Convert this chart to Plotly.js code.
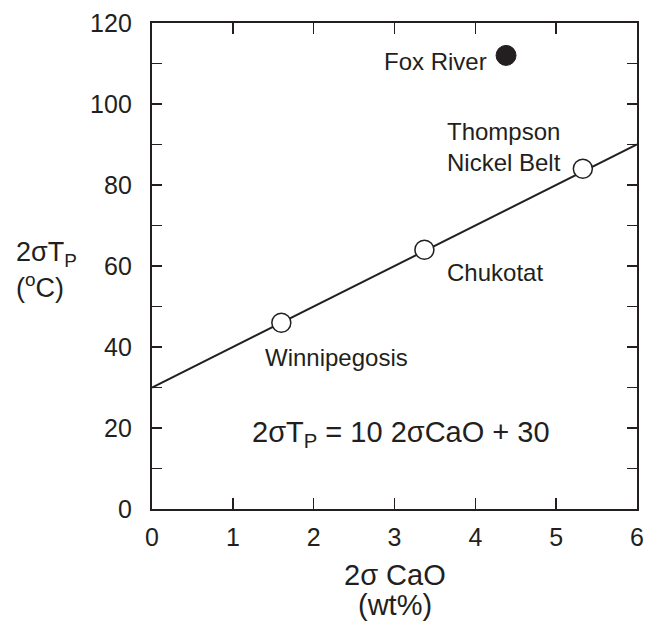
<!DOCTYPE html>
<html>
<head>
<meta charset="utf-8">
<script src="https://cdn.plot.ly/plotly-3.0.1.min.js"></script>
<style>html,body{margin:0;padding:0;background:#fff}#chart{width:659px;height:626px}</style>
</head>
<body>
<div id="chart"></div>
<script>
// Data
const siteNames = ["Winnipegosis", "Chukotat", "Thompson Nickel Belt"];
const siteCaO = [1.6, 3.37, 5.33];
const siteTp = [46, 64, 84];
const outlierName = ["Fox River"];
const outlierCaO = [4.38];
const outlierTp = [112];
const fitX = [0, 6];
const fitY = [30, 90];
const xTickVals = [0, 1, 2, 3, 4, 5, 6];
const yTickVals = [0, 20, 40, 60, 80, 100, 120];
const yMinorVals = [10, 30, 50, 70, 90, 110];

const FONT = "Liberation Sans, Arial, Helvetica, sans-serif";
const ink = "#231f20";

const traces = [
  {x: fitX, y: fitY, mode: "lines", line: {color: ink, width: 2}, hoverinfo: "skip", showlegend: false},
  {x: siteCaO, y: siteTp, text: siteNames, mode: "markers",
   marker: {size: 19, color: "#ffffff", line: {color: ink, width: 1.5}}, showlegend: false},
  {x: outlierCaO, y: outlierTp, text: outlierName, mode: "markers",
   marker: {size: 20, color: ink, line: {color: ink, width: 1}}, showlegend: false}
];

const ann = (x, y, text, xanchor, size) => ({
  x: x, y: y, xref: "x", yref: "y", text: text, showarrow: false,
  xanchor: xanchor, yanchor: "middle", align: "left",
  font: {family: FONT, size: size || 24, color: ink}
});
const pann = (x, y, text, xanchor, size) => ({
  x: x, y: y, xref: "paper", yref: "paper", text: text, showarrow: false,
  xanchor: xanchor, yanchor: "middle", align: xanchor === "center" ? "center" : "left",
  font: {family: FONT, size: size, color: ink}
});

const layout = {
  width: 659, height: 626,
  margin: {l: 152, r: 22, t: 23, b: 117},
  paper_bgcolor: "#ffffff", plot_bgcolor: "#ffffff",
  font: {family: FONT, color: ink, size: 25},
  xaxis: {
    range: [0, 6], tickvals: xTickVals, ticktext: xTickVals.map(String),
    ticks: "inside", ticklen: 11, tickwidth: 1.5, tickcolor: ink,
    showline: true, linewidth: 2.2, linecolor: ink, mirror: "allticks",
    showgrid: false, zeroline: false, ticklabelstandoff: 5,
    tickfont: {family: FONT, size: 25, color: ink}
  },
  yaxis: {
    range: [0, 120], tickvals: yTickVals, ticktext: yTickVals.map(String),
    ticks: "inside", ticklen: 10, tickwidth: 1.5, tickcolor: ink,
    minor: {tickvals: yMinorVals, ticks: "inside", ticklen: 10, tickwidth: 1.5, tickcolor: ink, showgrid: false},
    showline: true, linewidth: 2.2, linecolor: ink, mirror: "allticks",
    showgrid: false, zeroline: false, ticklabelstandoff: 13,
    tickfont: {family: FONT, size: 25, color: ink}
  },
  annotations: [
    ann(4.17, 110.4, "Fox River", "right"),
    ann(3.625, 89.4, "Thompson<br>Nickel Belt", "left"),
    ann(3.625, 58.5, "Chukotat", "left"),
    ann(1.375, 37.3, "Winnipegosis", "left"),
    ann(1.21, 18.5, "2σT<sub>P</sub> = 10 2σCaO + 30", "left", 29),
    pann(-0.284, 0.524, "2σT<sub>P</sub>", "left", 27),
    pann(-0.284, 0.458, "(<sup>o</sup>C)", "left", 27),
    pann(0.5, -0.136, "2σ CaO", "center", 29),
    pann(0.5, -0.198, "(wt%)", "center", 29)
  ]
};

Plotly.newPlot("chart", traces, layout, {displayModeBar: false, staticPlot: true});
</script>
</body>
</html>
